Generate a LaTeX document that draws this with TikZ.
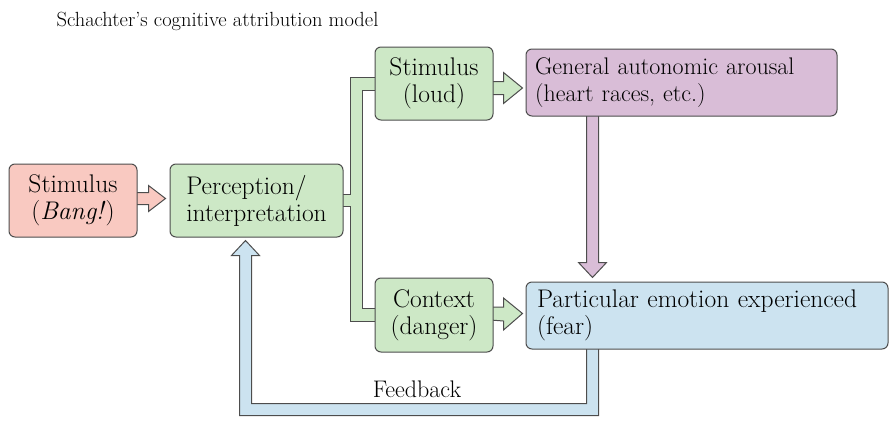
\documentclass[tikz,border=0pt]{standalone}
\usetikzlibrary{calc,backgrounds}

\definecolor{pinkc}{HTML}{F9C9C1}
\definecolor{greenc}{HTML}{CDE8C6}
\definecolor{purplec}{HTML}{D9BDD7}
\definecolor{bluec}{HTML}{CCE3F0}
\definecolor{edgec}{HTML}{4D4D4D}

\tikzset{
  box/.style={draw=edgec, line width=1pt, rounded corners=6pt, inner sep=0pt,
    font=\fontsize{25.5}{27}\selectfont},
  band/.style={draw=edgec, line width=1pt, line join=miter},
}

\begin{document}
\begin{tikzpicture}[x=1pt,y=-1pt]
\useasboundingbox (0,0) rectangle (895,426);

\node[anchor=base west, font=\fontsize{20.5}{25}\selectfont] (title) at (53,26) {Schachter’s cognitive attribution model};

\node[box, fill=pinkc, minimum width=128pt, minimum height=73pt, align=center] (bang) at (73,200.5) {Stimulus\\(\textit{Bang!})};
\node[box, fill=greenc, minimum width=173pt, minimum height=73pt, align=left] (percep) at (256.5,200.5) {Perception/\\interpretation};

\node[box, fill=greenc, minimum width=118pt, minimum height=73pt, align=center] (loud) at (434,83.5) {Stimulus\\(loud)};
\node[box, fill=greenc, minimum width=118pt, minimum height=74pt, align=center] (context) at (434,315) {Context\\(danger)};

\node[box, fill=purplec, inner xsep=9pt, text width=293pt, minimum height=67pt, align=left,
  font=\fontsize{24}{27}\selectfont] (arousal) at (681.5,82.5) {General autonomic arousal\\(heart races, etc.)};
\node[box, fill=bluec, inner xsep=11pt, text width=340pt, minimum height=67pt, align=left] (emotion) at (707,315.5) {Particular emotion experienced\\(fear)};

\node[anchor=base, font=\fontsize{24}{27}\selectfont] (fblabel) at (417,397) {Feedback};

\begin{pgfonlayer}{background}
% stimulus to perception
\draw[band, fill=pinkc] ($(bang.east)+(-3,-8)$) -- ($(bang.east)+(11,-8)$) -- ++(0,-7)
  -- ($(bang.east)+(28,-2)$) -- ($(bang.east)+(11,11)$) -- ++(0,-7) -- ($(bang.east)+(-3,4)$) -- cycle;

% perception splits to the two green boxes
\draw[band, fill=greenc] ($(percep.east)+(-3,-6)$) -- ($(percep.east)+(7,-6)$)
  |- ($(loud.west)+(3,-6.5)$) -- ($(loud.west)+(3,6.5)$) -- ($(loud.west)+(-12,6.5)$)
  |- ($(context.west)+(3,-6.5)$) -- ($(context.west)+(3,6.5)$)
  -| ($(percep.east)+(7,6)$) -- ($(percep.east)+(-3,6)$) -- cycle;

% loud to arousal
\draw[band, fill=greenc] ($(loud.east)+(-3,-2)$) -- ($(loud.east)+(10,-2)$) -- ++(0,-9)
  -- ($(loud.east)+(29,4.5)$) -- ($(loud.east)+(10,20)$) -- ++(0,-9) -- ($(loud.east)+(-3,11)$) -- cycle;

% context to emotion
\draw[band, fill=greenc] ($(context.east)+(-3,-8)$) -- ($(context.east)+(10,-8)$) -- ++(0,-9)
  -- ($(context.east)+(29,-1.5)$) -- ($(context.east)+(10,15)$) -- ++(0,-9) -- ($(context.east)+(-3,5)$) -- cycle;

% arousal down to emotion
\draw[band, fill=purplec] ($(arousal.south west)+(61,-3)$) -- ($(emotion.north west)+(61,-19)$) -- ++(-8,0)
  -- ($(emotion.north west)+(67,-4)$) -- ($(emotion.north west)+(81,-19)$) -- ++(-8,0)
  -- ($(arousal.south west)+(73,-3)$) -- cycle;

% feedback loop
\draw[band, fill=bluec] ($(emotion.south west)+(61,-3)$) |- ($(percep.south west)+(82,166)$)
  -- ($(percep.south west)+(82,18)$) -- ++(8,0) -- ($(percep.south west)+(76,3)$)
  -- ($(percep.south west)+(62,18)$) -- ++(8,0) |- ($(emotion.south west)+(73,66)$)
  -- ($(emotion.south west)+(73,-3)$) -- cycle;
\end{pgfonlayer}

\end{tikzpicture}
\end{document}
